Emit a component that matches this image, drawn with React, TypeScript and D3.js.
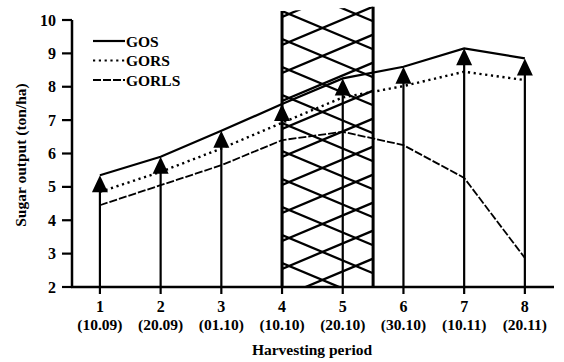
import { useRef, useEffect } from 'react';
import * as d3 from 'd3';

// Harvesting periods (x positions) and their dates
const PERIODS = [1, 2, 3, 4, 5, 6, 7, 8];
const DATES = ['(10.09)', '(20.09)', '(01.10)', '(10.10)', '(20.10)', '(30.10)', '(10.11)', '(20.11)'];

// Sugar output (ton/ha)
const GOS = [5.35, 5.9, 6.68, 7.48, 8.25, 8.6, 9.15, 8.85];
const GORS = [4.85, 5.45, 6.15, 6.92, 7.68, 8.02, 8.45, 8.2];
const GORLS = [4.45, 5.05, 5.65, 6.4, 6.65, 6.25, 5.27, 2.87];

const Y_TICKS = [2, 3, 4, 5, 6, 7, 8, 9, 10];

// hatched band over the harvest periods 4 - 5.5
const BAND = [4, 5.5];
const BAND_TOP = [10.27, 10.4];

const SERIES = [
  { name: 'GOS', values: GOS, dash: null, width: 2.2 },
  { name: 'GORS', values: GORS, dash: '2.2,3.6', width: 2.4 },
  { name: 'GORLS', values: GORLS, dash: '8,2', width: 1.8 },
];

const FONT = "'Liberation Serif', 'DejaVu Serif', serif";

export default function App() {
  const svgRef = useRef<SVGSVGElement>(null);
  const width = 564;
  const height = 362;

  useEffect(() => {
    if (!svgRef.current) return;
    const svg = d3.select(svgRef.current);
    svg.selectAll('*').remove();

    const x = d3.scaleLinear().domain([0.54, 8.48]).range([72, 554]);
    const y = d3.scaleLinear().domain([2, 10]).range([287, 20]);

    // Hatched band
    const bx0 = x(BAND[0]);
    const bx1 = x(BAND[1]);
    const byL = y(BAND_TOP[0]);
    const byR = y(BAND_TOP[1]);
    const bBottom = y(2);

    svg.append('clipPath')
      .attr('id', 'band-clip')
      .append('polygon')
      .attr('points', `${bx0},${byL} ${bx1},${byR} ${bx1},${bBottom} ${bx0},${bBottom}`);

    const W = bx1 - bx0;
    const slope = 0.42;
    const step = 28;
    const hatch = svg.append('g').attr('clip-path', 'url(#band-clip)');
    for (let k = -3; k < 14; k++) {
      const a = byL + k * step;
      hatch.append('line')
        .attr('x1', bx0).attr('y1', a)
        .attr('x2', bx1).attr('y2', a + slope * W)
        .attr('stroke', '#000').attr('stroke-width', 2.3);
      const b = byR + slope * W + k * step;
      hatch.append('line')
        .attr('x1', bx0).attr('y1', b)
        .attr('x2', bx1).attr('y2', b - slope * W)
        .attr('stroke', '#000').attr('stroke-width', 2.3);
    }
    svg.append('line')
      .attr('x1', bx0).attr('x2', bx0).attr('y1', byL).attr('y2', bBottom)
      .attr('stroke', '#000').attr('stroke-width', 3);
    svg.append('line')
      .attr('x1', bx1).attr('x2', bx1).attr('y1', byR).attr('y2', bBottom)
      .attr('stroke', '#000').attr('stroke-width', 3);

    // Arrows up to GOS
    const triH = 17;
    const triW = 16;
    PERIODS.forEach((p, i) => {
      const px = x(p);
      const tip = y(GOS[i]);
      svg.append('line')
        .attr('x1', px).attr('x2', px)
        .attr('y1', y(2) + 7).attr('y2', tip + triH - 1)
        .attr('stroke', '#000').attr('stroke-width', 2.2);
      svg.append('path')
        .attr('d', `M${px},${tip} L${px - triW / 2},${tip + triH} L${px + triW / 2},${tip + triH} Z`)
        .attr('fill', '#000');
    });

    // Lines
    const line = d3.line<number>()
      .x((_, i) => x(PERIODS[i]))
      .y((d) => y(d));

    SERIES.forEach((s) => {
      svg.append('path')
        .datum(s.values)
        .attr('d', line)
        .attr('fill', 'none')
        .attr('stroke', '#000')
        .attr('stroke-width', s.width)
        .attr('stroke-dasharray', s.dash);
    });

    // Axes
    const axisColor = '#000';
    svg.append('line')
      .attr('x1', 72).attr('x2', 72).attr('y1', y(10)).attr('y2', y(2))
      .attr('stroke', axisColor).attr('stroke-width', 2.5);
    svg.append('line')
      .attr('x1', 71).attr('x2', 554).attr('y1', y(2)).attr('y2', y(2))
      .attr('stroke', axisColor).attr('stroke-width', 2.5);

    Y_TICKS.forEach((t) => {
      svg.append('line')
        .attr('x1', 62).attr('x2', 72).attr('y1', y(t)).attr('y2', y(t))
        .attr('stroke', axisColor).attr('stroke-width', 2.2);
      svg.append('text')
        .attr('x', 56).attr('y', y(t) + 5.5)
        .attr('text-anchor', 'end')
        .attr('font-family', FONT).attr('font-weight', 'bold').attr('font-size', 16)
        .text(t);
    });

    PERIODS.forEach((p, i) => {
      svg.append('text')
        .attr('x', x(p)).attr('y', 312)
        .attr('text-anchor', 'middle')
        .attr('font-family', FONT).attr('font-weight', 'bold').attr('font-size', 16)
        .text(p);
      svg.append('text')
        .attr('x', x(p)).attr('y', 330)
        .attr('text-anchor', 'middle')
        .attr('font-family', FONT).attr('font-weight', 'bold').attr('font-size', 15.5)
        .text(DATES[i]);
    });

    // Axis titles
    svg.append('text')
      .attr('x', 312).attr('y', 355)
      .attr('text-anchor', 'middle')
      .attr('font-family', FONT).attr('font-weight', 'bold').attr('font-size', 15.5)
      .text('Harvesting period');

    svg.append('text')
      .attr('transform', 'translate(26,155) rotate(-90)')
      .attr('text-anchor', 'middle')
      .attr('font-family', FONT).attr('font-weight', 'bold').attr('font-size', 15.5)
      .text('Sugar output (ton/ha)');

    // Legend
    const legend = svg.append('g').attr('transform', 'translate(93,41)');
    SERIES.forEach((s, i) => {
      const item = legend.append('g').attr('transform', `translate(0,${i * 19.5})`);
      item.append('line')
        .attr('x1', 0).attr('x2', 32).attr('y1', 0).attr('y2', 0)
        .attr('stroke', '#000').attr('stroke-width', 2.2)
        .attr('stroke-dasharray', s.dash);
      item.append('text')
        .attr('x', 33).attr('y', 5.5)
        .attr('font-family', FONT).attr('font-weight', 'bold').attr('font-size', 15.5)
        .text(s.name);
    });
  }, []);

  return (
    <div style={{ position: 'absolute', left: 0, top: 0, width, height, background: '#fff' }}>
      <svg ref={svgRef} width={width} height={height} />
    </div>
  );
}
